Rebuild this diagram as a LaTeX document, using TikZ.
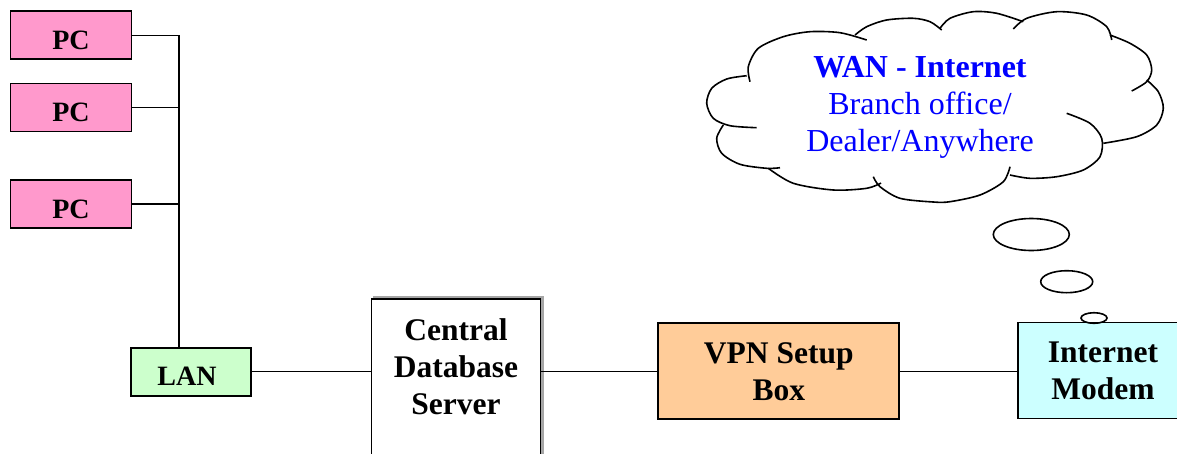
\documentclass[tikz,border=0pt]{standalone}
\usepackage{fontspec}
\setmainfont{Liberation Serif}
\usetikzlibrary{shadows}
\definecolor{pcpink}{HTML}{FF99CC}
\definecolor{langreen}{HTML}{CCFFCC}
\definecolor{vpnorange}{HTML}{FFCC99}
\definecolor{modemcyan}{HTML}{CCFFFF}
\definecolor{cloudblue}{HTML}{0000FF}
\begin{document}
\begin{tikzpicture}[x=1pt,y=-1pt,
  box/.style={draw=black, line width=1.8pt, inner sep=0pt},
  conn/.style={line width=1.4pt, draw=black},
  bigtext/.style={font=\fontsize{31.5pt}{37pt}\selectfont\bfseries, align=center, inner sep=0pt},
  smalltext/.style={font=\fontsize{28pt}{32pt}\selectfont\bfseries, text height=28.5pt, text depth=0pt},
  puff/.style={line width=1.6pt, draw=black},
  bubble/.style={line width=1.6pt, draw=black}
]
\useasboundingbox (0,0) rectangle (1177,453);
\fill[white] (0,0) rectangle (1177,453);

% PCs and LAN
\node[box, fill=pcpink, minimum width=121pt, minimum height=48pt, smalltext] (pc1) at (71,35.2) {PC};
\node[box, fill=pcpink, minimum width=121pt, minimum height=48pt, smalltext] (pc2) at (71,107.5) {PC};
\node[box, fill=pcpink, minimum width=121pt, minimum height=48pt, smalltext] (pc3) at (71,203.8) {PC};
\node[box, fill=langreen, minimum width=120pt, minimum height=48pt, smalltext] (lan) at (191,371.6) {LAN\hspace*{8pt}};

% Server
\node[box, fill=white, minimum width=169pt, minimum height=172pt,
      copy shadow={shadow xshift=2.5pt, shadow yshift=2.5pt, fill=gray!70, draw=gray!70}] (srv) at (456,385) {};
\node[bigtext] (srvtext) at (456,366.3) {Central\\Database\\Server};

% VPN and modem
\node[box, fill=vpnorange, minimum width=241pt, minimum height=96pt, bigtext] (vpn) at (778.8,371.3) {VPN Setup\\Box};
\node[box, fill=modemcyan, minimum width=170pt, minimum height=96pt, bigtext] (modem) at (1103,370.5) {Internet\\Modem};

% connectors
\coordinate (bustop) at (179,35.2);
\draw[conn] (pc1.east) -- (bustop) -- (bustop |- lan.north);
\draw[conn] (pc2.east) -- (pc2.east -| bustop);
\draw[conn] (pc3.east) -- (pc3.east -| bustop);
\draw[conn] (lan.east) -- (lan.east -| srv.west);
\draw[conn] (vpn.west -| srv.east) -- (vpn.west);
\draw[conn] (vpn.east) -- (vpn.east -| modem.west);

% cloud
\draw[puff] plot[smooth] coordinates {(750,81.7) (748.3,66.7) (758.3,48.3) (783.3,36.7) (810,31.7) (840,32.7) (866.7,40)};
\draw[puff] plot[smooth] coordinates {(855,35) (866.7,26.7) (886.7,20) (913.3,18.3) (930,21.7) (941.7,30)};
\draw[puff] plot[smooth] coordinates {(940,28.3) (950,18.3) (973.3,11.7) (996.7,13.3) (1023.3,21.7)};
\draw[puff] plot[smooth] coordinates {(1013.3,29) (1026.7,18.3) (1056.7,11.7) (1086.7,15) (1106.7,26.7) (1111.7,40)};
\draw[puff] plot[smooth] coordinates {(1110,35) (1130,43.3) (1146.7,55) (1151.7,70) (1146.7,81.7) (1131.7,91)};
\draw[puff] plot[smooth] coordinates {(1146.7,80) (1158.3,91.7) (1163.3,108.3) (1156.7,125) (1136.7,136.7) (1103.3,143.3)};
\draw[puff] plot[smooth] coordinates {(1066.7,113.3) (1090,123.3) (1101.7,138.3) (1100,156.7) (1083.3,170) (1056.7,176.7) (1030,178.3) (1010,175)};
\draw[puff] plot[smooth] coordinates {(1010,166.7) (1003.3,181.7) (980,195) (950,201.7) (933.3,202) (900,198.3) (880,186.7) (873.3,176.7)};
\draw[puff] plot[smooth] coordinates {(768.3,168.3) (793.3,183.3) (833.3,190) (866.7,188.3) (881,183)};
\draw[puff] plot[smooth] coordinates {(723.3,125) (716.7,138.3) (721.7,153.3) (740,164.3) (766.7,168.3) (780,167.7)};
\draw[puff] plot[smooth] coordinates {(746.7,75.7) (726.7,79) (711.7,88.3) (706.7,103.3) (713.3,118.3) (730,125.7) (756.7,127.7)};

\node[font=\fontsize{32pt}{37pt}\selectfont, text=cloudblue, align=center, inner sep=0pt] (cloudtext) at (920,107.6)
  {\textbf{WAN - Internet}\\Branch office/\\Dealer/Anywhere};

% thought bubbles
\draw[bubble] (1031.3,234.5) ellipse [x radius=38pt, y radius=16pt];
\draw[bubble] (1066.7,281.7) ellipse [x radius=26pt, y radius=11pt];
\draw[bubble] (1094,318) ellipse [x radius=13pt, y radius=5.3pt];
\end{tikzpicture}
\end{document}
